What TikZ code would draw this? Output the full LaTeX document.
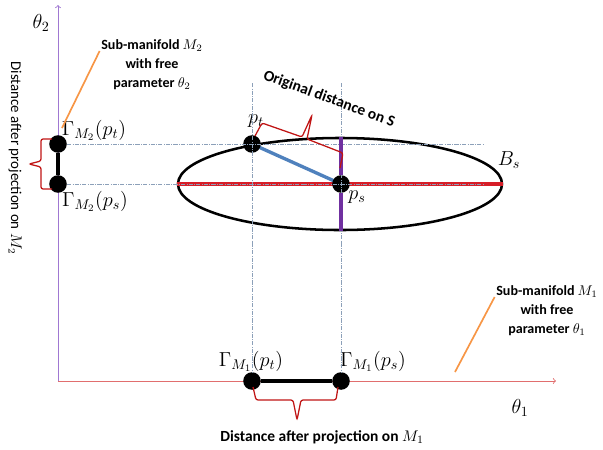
\documentclass[tikz,border=0pt]{standalone}
\usepackage{fontspec}
\setsansfont{Carlito}
\usetikzlibrary{shapes.geometric}

\definecolor{axisviolet}{RGB}{160,120,210}
\definecolor{axisred}{RGB}{225,110,110}
\definecolor{majorred}{RGB}{215,30,40}
\definecolor{minorpurple}{RGB}{112,48,160}
\definecolor{distblue}{RGB}{79,129,189}
\definecolor{bracered}{RGB}{192,20,20}
\definecolor{pointorange}{RGB}{247,150,70}
\definecolor{gridblue}{RGB}{140,160,185}

\begin{document}
\begin{tikzpicture}[x=0.025cm, y=-0.025cm, >=to,
    dot/.style={circle, fill=black, inner sep=0pt, minimum size=12.5pt},
    guide/.style={densely dash dot, draw=gridblue, line width=0.5pt},
    brace/.style={draw=bracered, line width=0.9pt, rounded corners=1.5pt},
    note/.style={font=\sffamily\bfseries\fontsize{10}{13.5}\selectfont, align=center, inner sep=1pt},
    pointer/.style={draw=pointorange, line width=1.2pt},
    lbl/.style={font=\Large, inner sep=1pt}]
    \useasboundingbox (0,0) rectangle (603,449);

    % axes
    \coordinate (O) at (58,381);
    \coordinate (ytop) at (58,5);
    \coordinate (xend) at (556,381);
    \draw[->, axisviolet, line width=0.6pt] (O) -- (ytop);
    \draw[->, axisred, line width=0.6pt] (O) -- (xend);
    \node[lbl] (th2) at (41,23) {$\theta_2$};
    \node[lbl] (th1) at (520,408) {$\theta_1$};

    % ball B_s and its diameters
    \node[ellipse, draw, line width=1.8pt, minimum width=8.1cm, minimum height=2.3cm, inner sep=0pt] (S) at (340,184) {};
    \coordinate (t) at (252,144);
    \coordinate (s) at (341,184);
    \draw[majorred, line width=2.3pt] (S.west) -- (S.east);
    \draw[distblue, line width=2.4pt] (t) -- (s);
    \node[dot] (pt) at (t) {};
    \node[dot] (ps) at (s) {};
    \node[lbl] (lpt) at (256,121) {$p_t$};
    \node[lbl] (lps) at (357,197) {$p_s$};
    \node[lbl] (lbs) at (509,160) {$B_s$};

    % projections on M_2
    \node[dot] (m2t) at (58,144) {};
    \node[dot] (m2s) at (58,184) {};
    \draw[line width=2.2pt] (m2t) -- (m2s);
    \node[lbl] (lm2t) at (94,130) {$\Gamma_{M_2}(p_t)$};
    \node[lbl] (lm2s) at (95,201) {$\Gamma_{M_2}(p_s)$};

    % projections on M_1
    \node[dot] (m1t) at (252,381) {};
    \node[dot] (m1s) at (341,381) {};
    \draw[line width=2.2pt] (m1t) -- (m1s);
    \node[lbl] (lm1t) at (251,361) {$\Gamma_{M_1}(p_t)$};
    \node[lbl] (lm1s) at (373,361) {$\Gamma_{M_1}(p_s)$};

    % guide lines
    \coordinate (h1) at (483,144);
    \coordinate (h2) at (483,184);
    \coordinate (v1) at (252,83);
    \coordinate (v2) at (341,83);
    \draw[guide] (m2t) -- (h1);
    \draw[guide] (m2s) -- (h2);
    \draw[guide] (v1) -- (m1t);
    \draw[guide] (v2) -- (m1s);
    \draw[minorpurple, line width=2.3pt] (S.north -| s) -- (ps.north);
    \draw[minorpurple, line width=2.3pt] (ps.south) -- (S.south -| s);

    % braces
    \draw[brace] (52,139) -- (41,139) -- (41,161) -- (29,164) -- (41,167) -- (41,189) -- (52,189);
    \draw[brace] (253,387) -- (256,400) -- (293,400) -- (297,420) -- (301,400) -- (336,400) -- (338,387);
    \draw[brace] (255,136) -- (262,123) -- (302,137) -- (312,115) -- (307,139) -- (343,153) -- (340,168);

    % distance texts
    \node[font=\sffamily\fontsize{10.6}{12}\selectfont, rotate=-90, inner sep=0pt] (m2dist) at (15,158) {Distance after projection on $M_2$};
    \node[font=\sffamily\bfseries\fontsize{11}{13}\selectfont] (m1dist) at (322,437) {Distance after projection on $M_1$};
    \node[font=\sffamily\bfseries\fontsize{11}{13}\selectfont, rotate=-20, inner sep=0pt] (orig) at (329,99) {Original distance on S};

    % sub-manifold notes
    \node[note] (m2note) at (152,65) {Sub-manifold $M_2$\\with free\\parameter $\theta_2$};
    \node[note] (m1note) at (547,311) {Sub-manifold $M_1$\\with free\\parameter $\theta_1$};
    \coordinate (pm2) at (62,128);
    \coordinate (pm1) at (455,372);
    \draw[pointer] (pm2) -- (m2note.165);
    \draw[pointer] (pm1) -- (m1note.165);
\end{tikzpicture}
\end{document}
